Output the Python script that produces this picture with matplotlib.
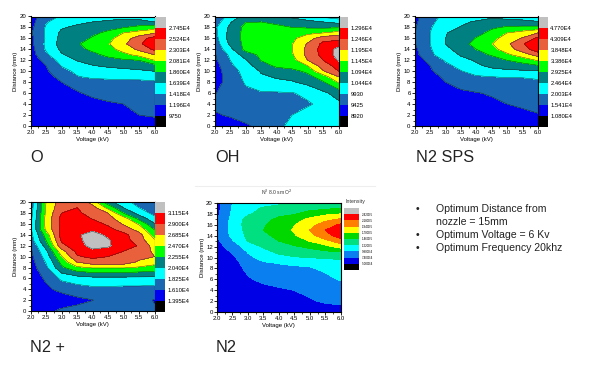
import matplotlib
matplotlib.use("Agg")
import matplotlib.pyplot as plt
import numpy as np

plt.rcParams["font.family"] = ["Liberation Sans", "DejaVu Sans"]

W, H = 600, 367

# grid of the maps; Z values are in colour-band units (1 = first label, 2 = second...)
voltage = [2.0, 2.5, 3.0, 3.5, 4.0, 4.5, 5.0, 5.5, 6.0]
distance = [0, 2, 4, 6, 8, 9, 10, 11, 12, 13, 14, 15, 16, 17, 18, 19, 20]

o_z = [
    [1.05, 1.05, 1.1, 1.2, 1.3, 1.4, 1.5, 1.6, 1.6],
    [1.05, 1.1, 1.2, 1.3, 1.4, 1.6, 1.8, 2.0, 2.1],
    [1.1, 1.2, 1.3, 1.5, 1.7, 1.9, 2.0, 2.2, 2.3],
    [1.1, 1.3, 1.6, 1.9, 2.2, 2.3, 2.4, 2.5, 2.6],
    [1.2, 1.5, 2.0, 2.4, 2.7, 2.75, 2.8, 2.85, 2.9],
    [1.25, 1.65, 2.3, 2.95, 3.15, 3.2, 3.25, 3.2, 3.3],
    [1.3, 1.85, 2.65, 3.2, 3.4, 3.6, 3.7, 3.8, 4.0],
    [1.4, 2.0, 3.05, 3.6, 3.95, 4.15, 4.3, 4.5, 4.6],
    [1.45, 2.3, 3.4, 4.05, 4.4, 4.7, 4.85, 5.0, 6.0],
    [1.55, 2.8, 3.9, 4.4, 4.75, 5.2, 5.7, 6.3, 7.0],
    [1.6, 3.1, 4.2, 4.7, 5.2, 5.6, 6.4, 7.2, 8.2],
    [1.7, 3.2, 4.4, 4.9, 5.35, 5.9, 6.8, 7.8, 8.8],
    [1.7, 3.1, 4.3, 4.6, 5.1, 5.7, 6.5, 7.5, 8.5],
    [1.85, 3.15, 4.2, 4.55, 4.8, 5.2, 6.0, 6.4, 6.9],
    [1.7, 3.1, 3.9, 4.2, 4.4, 4.7, 4.95, 5.3, 5.5],
    [1.6, 2.9, 3.5, 3.8, 4.0, 4.2, 4.4, 4.3, 4.0],
    [1.5, 2.6, 3.1, 3.3, 3.4, 3.5, 3.6, 3.6, 3.4],
]
oh_z = [
    [1.3, 1.6, 1.9, 2.2, 2.8, 3.2, 3.5, 3.6, 3.4],
    [1.9, 2.1, 2.3, 2.4, 2.6, 3.0, 3.3, 3.5, 3.6],
    [2.2, 2.3, 2.5, 2.6, 2.6, 2.7, 2.9, 3.2, 3.8],
    [1.95, 2.4, 2.8, 2.9, 2.9, 2.95, 3.2, 3.8, 4.4],
    [1.6, 2.4, 3.1, 3.6, 3.8, 3.9, 4.3, 4.9, 6.1],
    [1.5, 2.5, 3.2, 3.85, 4.1, 4.3, 4.7, 5.5, 7.0],
    [1.5, 2.6, 3.3, 4.1, 4.5, 4.7, 5.2, 6.9, 8.0],
    [1.6, 2.8, 3.6, 4.5, 5.2, 5.4, 6.0, 7.5, 8.4],
    [1.8, 3.0, 3.9, 5.05, 5.3, 5.6, 7.0, 8.0, 9.1],
    [1.9, 3.2, 4.5, 5.2, 5.4, 5.9, 7.3, 8.3, 9.4],
    [2.2, 3.7, 5.3, 5.4, 5.5, 6.0, 7.3, 8.4, 9.3],
    [2.4, 4.2, 5.3, 5.4, 5.5, 5.95, 7.1, 8.25, 8.6],
    [2.6, 4.4, 5.3, 5.4, 5.5, 5.8, 6.55, 7.6, 7.7],
    [2.7, 4.35, 5.3, 5.4, 5.4, 5.5, 5.8, 6.0, 6.4],
    [2.8, 4.2, 5.3, 5.4, 5.2, 5.0, 4.9, 4.85, 4.9],
    [2.4, 3.9, 4.95, 5.0, 4.8, 4.5, 4.25, 4.0, 3.7],
    [1.9, 3.5, 4.3, 4.5, 4.1, 3.8, 3.4, 2.8, 2.4],
]
sps_z = [
    [1.05, 1.05, 1.1, 1.15, 1.2, 1.25, 1.3, 1.3, 1.2],
    [1.05, 1.1, 1.2, 1.3, 1.4, 1.5, 1.65, 1.85, 1.95],
    [1.05, 1.15, 1.3, 1.45, 1.6, 1.8, 2.0, 2.1, 2.25],
    [1.1, 1.3, 1.5, 1.8, 1.95, 2.1, 2.2, 2.3, 2.4],
    [1.2, 1.5, 2.0, 2.4, 2.6, 2.7, 2.75, 2.8, 2.85],
    [1.25, 1.7, 2.15, 2.65, 2.9, 3.0, 3.05, 3.05, 3.15],
    [1.3, 1.9, 2.4, 2.95, 3.4, 3.7, 3.8, 3.85, 3.9],
    [1.4, 2.0, 2.75, 3.3, 3.85, 4.2, 4.4, 4.6, 4.9],
    [1.5, 2.3, 3.1, 3.7, 4.1, 4.5, 5.0, 5.4, 6.1],
    [1.65, 2.85, 3.4, 4.1, 4.6, 5.1, 5.8, 6.5, 7.4],
    [1.8, 2.9, 3.75, 4.4, 5.0, 5.65, 6.5, 7.5, 8.6],
    [1.95, 3.0, 4.0, 4.65, 5.3, 5.95, 6.8, 7.9, 8.8],
    [2.0, 3.0, 4.0, 4.5, 5.05, 5.7, 6.4, 7.1, 8.3],
    [1.95, 3.0, 3.95, 4.35, 4.75, 5.2, 6.0, 6.4, 7.0],
    [1.9, 2.9, 3.7, 4.05, 4.4, 4.9, 5.1, 5.2, 5.3],
    [1.8, 2.8, 3.4, 3.85, 4.1, 4.4, 4.5, 4.4, 4.1],
    [1.7, 2.7, 3.2, 3.4, 3.6, 3.8, 3.5, 3.3, 3.1],
]
n2p_z = [
    [1.1, 1.7, 2.2, 2.3, 2.4, 2.4, 2.4, 2.3, 2.1],
    [1.05, 1.2, 1.4, 1.75, 1.98, 2.3, 2.4, 2.3, 1.95],
    [1.2, 1.8, 2.3, 2.6, 2.75, 2.75, 2.7, 2.7, 2.6],
    [1.4, 2.15, 3.2, 3.5, 3.7, 3.7, 3.7, 3.7, 3.7],
    [1.5, 2.8, 4.8, 5.8, 6.1, 6.1, 6.1, 5.9, 5.7],
    [1.6, 3.05, 5.3, 7.0, 7.6, 7.7, 7.6, 6.8, 6.3],
    [1.7, 3.4, 5.9, 7.9, 8.2, 8.0, 7.7, 7.4, 7.0],
    [1.8, 3.8, 6.6, 8.25, 8.8, 8.7, 8.0, 7.6, 6.8],
    [2.0, 4.4, 7.7, 8.6, 9.3, 9.1, 8.6, 7.9, 6.6],
    [2.5, 5.0, 8.15, 8.7, 9.5, 9.1, 8.4, 7.5, 6.1],
    [2.6, 5.4, 8.4, 8.85, 9.4, 8.8, 8.3, 7.4, 5.5],
    [2.8, 6.2, 8.3, 8.7, 8.8, 8.3, 7.6, 6.6, 4.95],
    [2.8, 6.3, 8.3, 8.6, 8.4, 7.85, 6.9, 5.9, 4.1],
    [2.7, 6.3, 8.3, 8.5, 7.95, 7.3, 6.5, 4.7, 3.3],
    [2.5, 6.2, 8.0, 8.2, 7.6, 7.0, 5.0, 3.6, 2.7],
    [2.4, 6.1, 7.7, 8.0, 7.4, 5.7, 4.0, 3.0, 2.4],
    [2.3, 6.0, 7.6, 7.9, 6.6, 4.4, 3.4, 2.6, 2.2],
]
n2_z = [
    [1.02, 1.05, 1.1, 1.15, 1.2, 1.3, 1.4, 1.5, 1.6],
    [1.03, 1.1, 1.2, 1.3, 1.4, 1.6, 1.9, 2.1, 2.2],
    [1.05, 1.2, 1.4, 1.7, 1.85, 2.0, 2.2, 2.3, 2.4],
    [1.1, 1.4, 1.9, 2.2, 2.4, 2.5, 2.6, 2.7, 3.1],
    [1.2, 1.6, 2.2, 2.6, 2.75, 2.85, 2.9, 3.2, 3.6],
    [1.25, 1.65, 2.4, 2.9, 3.05, 3.15, 3.2, 3.4, 3.7],
    [1.3, 1.8, 2.8, 3.3, 3.7, 3.9, 4.05, 4.1, 4.2],
    [1.45, 2.1, 3.05, 3.65, 4.2, 4.5, 4.65, 4.8, 5.0],
    [1.6, 2.5, 3.4, 4.15, 4.6, 4.9, 5.2, 5.7, 6.4],
    [1.8, 2.9, 4.05, 4.45, 5.0, 5.45, 6.05, 6.7, 7.5],
    [2.0, 3.25, 4.2, 4.8, 5.25, 5.9, 6.7, 7.6, 8.5],
    [2.0, 3.4, 4.3, 5.0, 5.55, 6.1, 7.0, 8.0, 8.8],
    [1.95, 3.4, 4.4, 4.9, 5.4, 5.95, 6.7, 7.4, 8.15],
    [1.9, 3.3, 4.35, 4.7, 5.2, 5.6, 6.2, 6.7, 7.1],
    [1.8, 3.15, 3.85, 4.35, 4.7, 4.9, 5.4, 5.75, 5.95],
    [1.7, 3.1, 3.7, 4.1, 4.3, 4.5, 4.65, 4.8, 5.0],
    [1.6, 3.0, 3.3, 3.6, 3.8, 4.0, 4.05, 4.05, 4.05],
]

o_labels = ["9750", "1.196E4", "1.418E4", "1.639E4", "1.860E4", "2.081E4", "2.303E4", "2.524E4", "2.745E4"]
oh_labels = ["8920", "9425", "9930", "1.044E4", "1.094E4", "1.145E4", "1.195E4", "1.246E4", "1.296E4"]
sps_labels = ["1.080E4", "1.541E4", "2.003E4", "2.464E4", "2.925E4", "3.386E4", "3.848E4", "4.309E4", "4.770E4"]
n2p_labels = ["1.395E4", "1.610E4", "1.825E4", "2.040E4", "2.255E4", "2.470E4", "2.685E4", "2.900E4", "3.115E4"]
n2_labels = ["5.000E4", "7.400E4", "9.800E4", "1.220E5", "1.460E5", "1.700E5", "1.940E5", "2.180E5", "2.420E5"]

band_colors = ["#000000", "#0000f0", "#1a66b0", "#00ffff", "#008080", "#00ff00", "#ffff00", "#e8603c", "#ff0000", "#c0c0c0"]
n2_colors = ["#000000", "#0000e6", "#0a7ff0", "#00ffff", "#00e080", "#00d800", "#ffff00", "#ff8000", "#ff0000", "#c0c0c0"]

bullets = ["Optimum Distance from", "nozzle = 15mm", "Optimum Voltage = 6 Kv", "Optimum Frequency 20khz"]


def px_axes(fig, x0, y0, x1, y1):
    """Add axes from pixel box, y counted from top."""
    return fig.add_axes([x0 / W, 1 - y1 / H, (x1 - x0) / W, (y1 - y0) / H])


def draw_map(fig, box, cbox, z, labels, colors, lines=True, cfont=4.2):
    ax = px_axes(fig, *box)
    levels = np.arange(0, 11)
    ax.contourf(voltage, distance, np.array(z), levels=levels, colors=colors)
    if lines:
        ax.contour(voltage, distance, np.array(z), levels=levels[1:-1], colors="#202020", linewidths=0.3)
    ax.set_xlim(2, 6)
    ax.set_ylim(0, 20)
    ax.set_xticks(voltage)
    ax.set_xticklabels([f"{v:.1f}" for v in voltage])
    ax.set_yticks(np.arange(0, 21, 2))
    ax.set_yticks(np.arange(1, 20, 2), minor=True)
    ax.set_xticks(np.arange(2.25, 6, 0.5), minor=True)
    ax.tick_params(labelsize=4.3, length=2, width=0.6, pad=1)
    ax.tick_params(which="minor", length=1.2, width=0.5)
    ax.set_xlabel("Voltage (kV)", fontsize=4.3, labelpad=1)
    ax.set_ylabel("Distance (mm)", fontsize=4.3, labelpad=1)
    for s in ax.spines.values():
        s.set_linewidth(0.8)

    cax = px_axes(fig, *cbox)
    cax.bar(np.zeros(10), np.ones(10), bottom=np.arange(10), width=1, color=colors)
    cax.set_xlim(-0.5, 0.5)
    cax.set_ylim(0, 10)
    cax.set_xticks([])
    cax.yaxis.tick_right()
    cax.set_yticks(np.arange(1, 10))
    cax.set_yticklabels(labels, fontsize=cfont)
    cax.tick_params(length=0, pad=2)
    for s in cax.spines.values():
        s.set_visible(False)


fig = plt.figure(figsize=(W / 100, H / 100), dpi=100)

draw_map(fig, (30.5, 16.5, 154.5, 126), (155, 16.5, 165.5, 127), o_z, o_labels, band_colors)
draw_map(fig, (214.7, 16.5, 338.7, 126), (339.5, 16.5, 348, 127), oh_z, oh_labels, band_colors)
draw_map(fig, (414.7, 16.5, 538, 126), (538.5, 16.5, 547.5, 127), sps_z, sps_labels, band_colors)
draw_map(fig, (30.5, 202.3, 154.5, 311), (155, 202.3, 165, 312), n2p_z, n2p_labels, band_colors)
draw_map(fig, (217, 202.7, 340.7, 312.3), (344, 208, 358.7, 270), n2_z, n2_labels, n2_colors, lines=False, cfont=2.2)

names = [("O", 30, 157), ("OH", 215, 157), ("N2 SPS", 416, 157), ("N2 +", 30, 348), ("N2", 216, 348)]
for name, x, y in names:
    fig.text(x / W, 1 - y / H, name, fontsize=11.7, va="center", ha="left", color="#222222")

fig.text(277 / W, 1 - 192.5 / H, "N$^2$ 8.0 sm O$^2$", fontsize=3.6, ha="center", va="center", color="#333333")
fig.text(355 / W, 1 - 201 / H, "Intensity", fontsize=3.8, ha="center", va="center", color="#333333")
fig.add_artist(plt.Line2D([195 / W, 375 / W], [1 - 185.5 / H, 1 - 185.5 / H], color="#eeeeee", linewidth=0.8))

for text, y in zip(bullets, [208.5, 222, 235, 248]):
    fig.text(436 / W, 1 - y / H, text, fontsize=7.6, va="center", ha="left", color="#222222")
for y in [208.5, 235, 248]:
    fig.text(417 / W, 1 - y / H, "•", fontsize=7.6, va="center", ha="center", color="#222222")

fig.savefig("out.png", dpi=100)
